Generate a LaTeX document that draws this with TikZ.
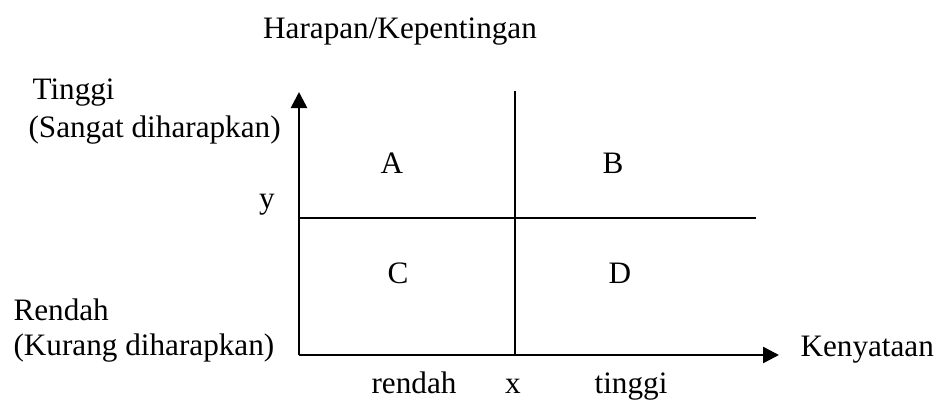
\documentclass[tikz,border=0pt]{standalone}
\usepackage{fontspec}
\setmainfont{Liberation Serif}
\usetikzlibrary{arrows.meta}

\tikzset{
    lbl/.style={inner sep=0pt, font=\fontsize{11.7}{14}\selectfont},
    axis/.style={line width=0.95pt, -{Triangle[length=6pt,width=6pt]}},
    divider/.style={line width=0.7pt}
}

\begin{document}
\begin{tikzpicture}[x=0.375pt, y=-0.375pt]
    \useasboundingbox (0,0) rectangle (939,400);

    \coordinate (O) at (299,355);
    \coordinate (ytop) at (299,92);
    \coordinate (xend) at (779,355);
    \coordinate (vtop) at (515,91);
    \coordinate (vbot) at (515,355);
    \coordinate (hleft) at (299,218);
    \coordinate (hright) at (756,218);

    % quadrant lines
    \draw[divider] (vtop) -- (vbot);
    \draw[divider, line width=0.6pt] (hleft) -- (hright);

    % axes
    \draw[axis] (O) -- (ytop);
    \draw[axis] (O) -- (xend);

    \node[lbl, anchor=base] (title) at (400,38) {Harapan/Kepentingan};
    \node[lbl, anchor=base west] (hi) at (32,99) {Tinggi};
    \node[lbl, anchor=base west] (hidesc) at (28,137) {(Sangat diharapkan)};
    \node[lbl, anchor=base] (ylbl) at (267,208) {y};
    \node[lbl, anchor=base west] (lo) at (13,320) {Rendah};
    \node[lbl, anchor=base west] (lodesc) at (13,355) {(Kurang diharapkan)};
    \node[lbl, anchor=base west] (xlbl) at (800,356) {Kenyataan};

    \node[lbl, anchor=base] (qa) at (392,173) {A};
    \node[lbl, anchor=base] (qb) at (613,173) {B};
    \node[lbl, anchor=base] (qc) at (398,283) {C};
    \node[lbl, anchor=base] (qd) at (620,283) {D};

    \node[lbl, anchor=base] (xlo) at (414,393) {rendah};
    \node[lbl, anchor=base] (xmid) at (513,393) {x};
    \node[lbl, anchor=base] (xhi) at (631,393) {tinggi};
\end{tikzpicture}
\end{document}
